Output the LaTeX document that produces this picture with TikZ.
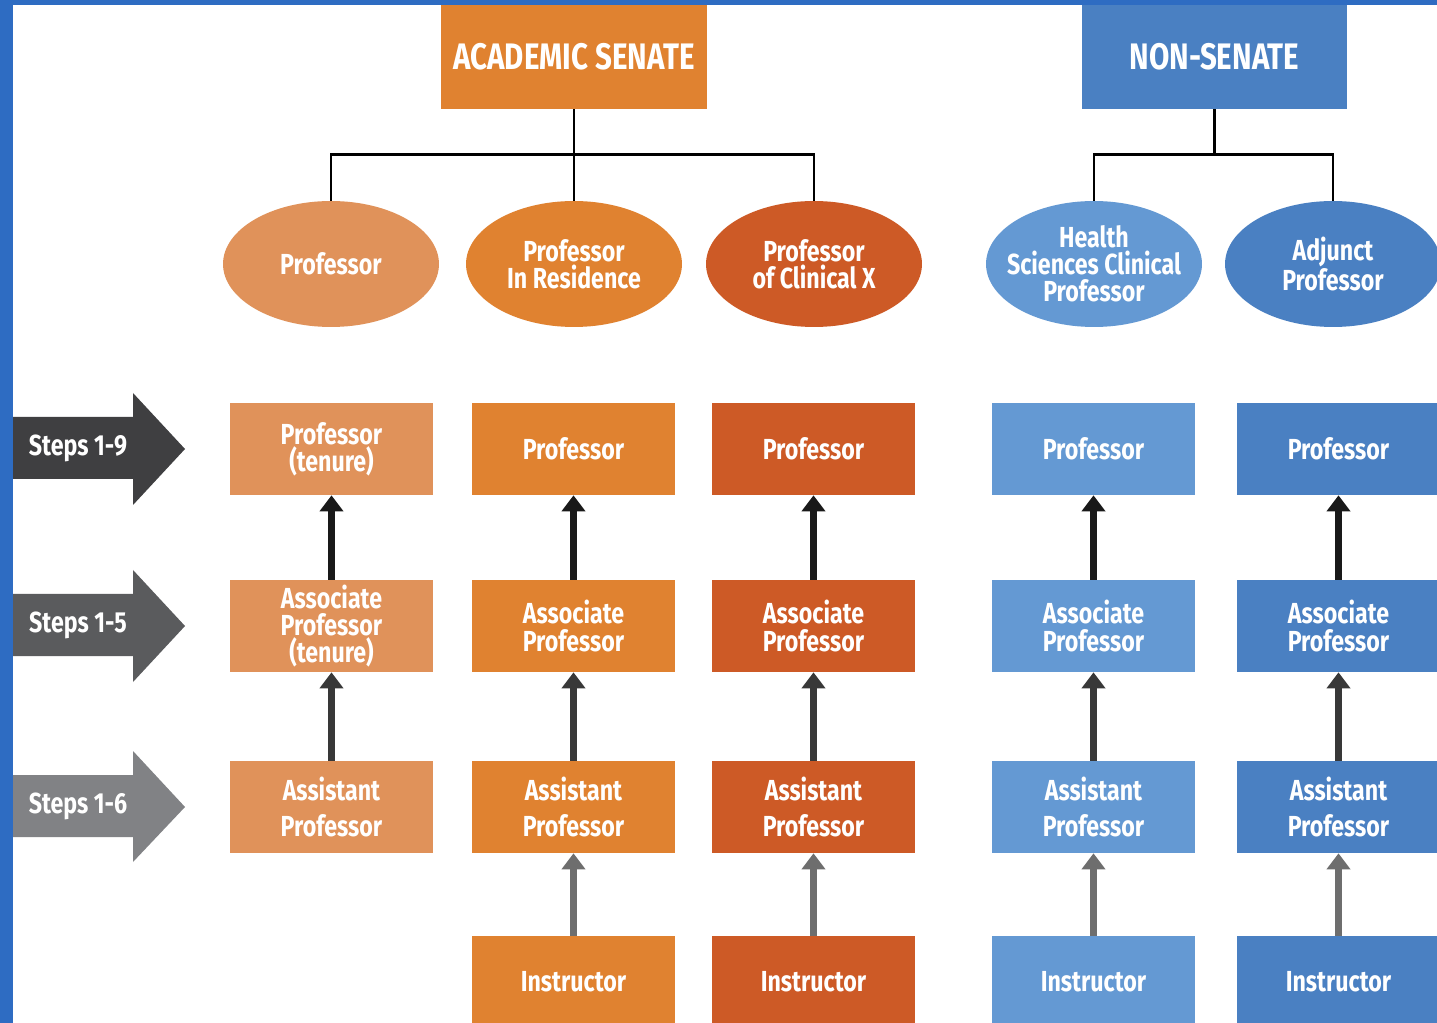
\documentclass[tikz,border=0pt]{standalone}
\usepackage{fontspec}
\setmainfont[FakeStretch=0.8]{Fira Sans}
\usetikzlibrary{shapes.geometric,arrows.meta}

\definecolor{frameblue}{HTML}{2E6CC2}
\definecolor{lorange}{HTML}{E0925A}
\definecolor{morange}{HTML}{E08230}
\definecolor{dorange}{HTML}{CD5A26}
\definecolor{lblue}{HTML}{6499D3}
\definecolor{mblue}{HTML}{4A80C2}
\definecolor{stepa}{HTML}{3F3F41}
\definecolor{stepb}{HTML}{5A5B5D}
\definecolor{stepc}{HTML}{818285}

\begin{document}
\begin{tikzpicture}[x=0.02cm,y=-0.02cm,
  every node/.style={text=white,font=\bfseries\fontsize{16.5}{15.5}\selectfont,align=center,inner sep=0pt},
  hbox/.style={minimum width=5.32cm,minimum height=2.08cm,font=\bfseries\fontsize{21}{24}\selectfont},
  oval/.style={ellipse,minimum width=4.32cm,minimum height=2.52cm},
  rbox/.style={minimum width=4.06cm,minimum height=1.84cm},
  uparrow/.style={line width=0.14cm,-{Triangle[width=0.46cm,length=0.32cm]}},
  link/.style={black,line width=1.4pt}]
  \useasboundingbox (0,0) rectangle (1437,1023);
  \clip (0,0) rectangle (1437,1023);
  \fill [white] (0,0) rectangle (1437,1023);
  \fill [frameblue] (0,0) rectangle (1437,5);
  \fill [frameblue] (0,0) rectangle (13,1023);

  \node [hbox,fill=morange] (senate) at (574,57) {ACADEMIC SENATE};
  \node [hbox,fill=mblue] (nonsenate) at (1214.5,57) {NON-SENATE};

  \node [oval,fill=lorange] (prof) at (331,264) {Professor};
  \node [oval,fill=morange] (resid) at (574,264) {Professor\\In Residence};
  \node [oval,fill=dorange] (clinx) at (814,264) {Professor\\of Clinical X};
  \node [oval,fill=lblue,inner xsep=-0.22cm] (health) at (1094,264) {Health\\Sciences Clinical\\Professor};
  \node [oval,fill=mblue] (adjunct) at (1333,264) {Adjunct\\Professor};

  \draw [link] (senate.south) -- (resid.north);
  \draw [link] (prof.north) -- ++(0,-46) -| (clinx.north);
  \draw [link] (nonsenate.south) -- ++(0,45);
  \draw [link] (health.north) -- ++(0,-46) -| (adjunct.north);

  \fill [stepa] (13,417) -- (133,417) -- (133,393) -- (185,449) -- (133,505) -- (133,479) -- (13,479) -- cycle;
  \node (steps9) at (78,448) {Steps 1-9};
  \fill [stepb] (13,594) -- (133,594) -- (133,570) -- (185,626) -- (133,682) -- (133,656) -- (13,656) -- cycle;
  \node (steps5) at (78,625) {Steps 1-5};
  \fill [stepc] (13,775) -- (133,775) -- (133,751) -- (185,807) -- (133,862) -- (133,837) -- (13,837) -- cycle;
  \node (steps6) at (78,806) {Steps 1-6};

  \node [rbox,fill=lorange] (prof1) at (331.5,449) {Professor\\(tenure)};
  \node [rbox,fill=lorange] (assoc1) at (331.5,626) {Associate\\Professor\\(tenure)};
  \node [rbox,fill=lorange] (asst1) at (331.5,807) {Assistant\\[5pt]Professor};

  \node [rbox,fill=morange] (prof2) at (573.5,449) {Professor};
  \node [rbox,fill=morange] (assoc2) at (573.5,626) {Associate\\Professor};
  \node [rbox,fill=morange] (asst2) at (573.5,807) {Assistant\\[5pt]Professor};
  \node [rbox,fill=morange] (instr2) at (573.5,982) {Instructor};

  \node [rbox,fill=dorange] (prof3) at (813.5,449) {Professor};
  \node [rbox,fill=dorange] (assoc3) at (813.5,626) {Associate\\Professor};
  \node [rbox,fill=dorange] (asst3) at (813.5,807) {Assistant\\[5pt]Professor};
  \node [rbox,fill=dorange] (instr3) at (813.5,982) {Instructor};

  \node [rbox,fill=lblue] (prof4) at (1093.5,449) {Professor};
  \node [rbox,fill=lblue] (assoc4) at (1093.5,626) {Associate\\Professor};
  \node [rbox,fill=lblue] (asst4) at (1093.5,807) {Assistant\\[5pt]Professor};
  \node [rbox,fill=lblue] (instr4) at (1093.5,982) {Instructor};

  \node [rbox,fill=mblue] (prof5) at (1338.5,449) {Professor};
  \node [rbox,fill=mblue] (assoc5) at (1338.5,626) {Associate\\Professor};
  \node [rbox,fill=mblue] (asst5) at (1338.5,807) {Assistant\\[5pt]Professor};
  \node [rbox,fill=mblue] (instr5) at (1338.5,982) {Instructor};

  \draw [uparrow,black!90] (assoc1) -- (prof1);
  \draw [uparrow,black!90] (assoc2) -- (prof2);
  \draw [uparrow,black!90] (assoc3) -- (prof3);
  \draw [uparrow,black!90] (assoc4) -- (prof4);
  \draw [uparrow,black!90] (assoc5) -- (prof5);
  \draw [uparrow,black!78] (asst1) -- (assoc1);
  \draw [uparrow,black!78] (asst2) -- (assoc2);
  \draw [uparrow,black!78] (asst3) -- (assoc3);
  \draw [uparrow,black!78] (asst4) -- (assoc4);
  \draw [uparrow,black!78] (asst5) -- (assoc5);
  \draw [uparrow,black!57] (instr2) -- (asst2);
  \draw [uparrow,black!57] (instr3) -- (asst3);
  \draw [uparrow,black!57] (instr4) -- (asst4);
  \draw [uparrow,black!57] (instr5) -- (asst5);
\end{tikzpicture}
\end{document}
